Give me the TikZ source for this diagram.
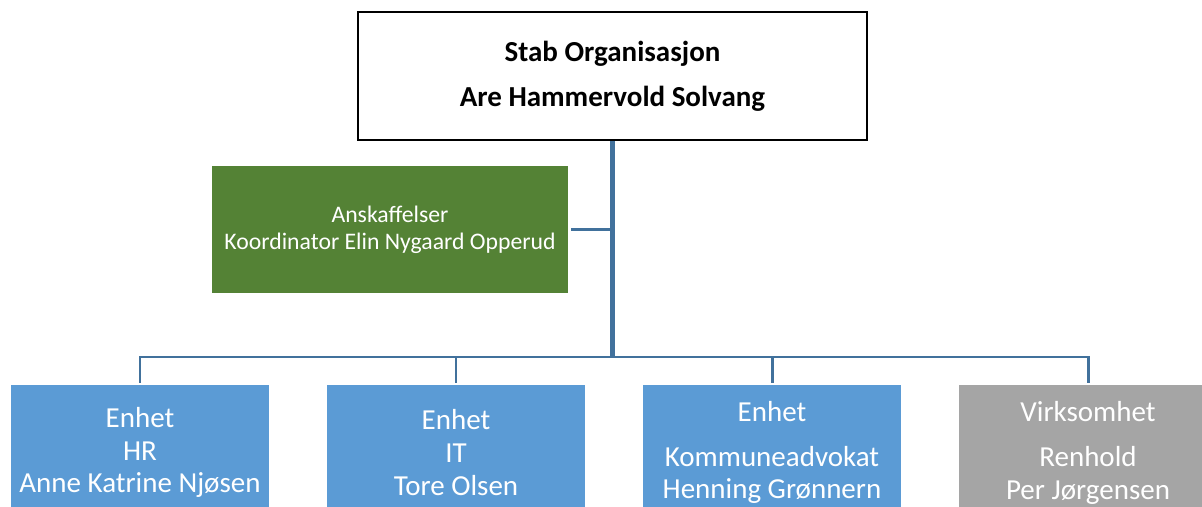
\documentclass[tikz,border=0pt]{standalone}
\usepackage{fontspec}
\setmainfont{Carlito}
\usetikzlibrary{positioning,calc}
\definecolor{lineblue}{HTML}{41719C}
\definecolor{unitblue}{HTML}{5B9BD5}
\definecolor{staffgreen}{HTML}{548235}
\definecolor{unitgray}{HTML}{A5A5A5}
\tikzstyle{unit} = [rectangle, minimum width=5.16cm, minimum height=2.7cm, inner sep=0pt, align=center, text=white, font=\fontsize{16.5}{18.7}\selectfont]
\tikzstyle{conn} = [draw=lineblue, line width=1.7pt]

\begin{document}
\begin{tikzpicture}
\useasboundingbox (0,0) rectangle (24.04,10.12);
\clip (0,0) rectangle (24.04,10.12);
% head of the staff
\node (stab) at (12.25,8.6) [draw, line width=1.1pt, minimum width=10.18cm, minimum height=2.56cm, align=center, font=\bfseries\fontsize{16.5}{25.5}\selectfont] {Stab Organisasjon\\Are Hammervold Solvang};
\node (ansk) at (7.8,5.53) [fill=staffgreen, text=white, minimum width=7.12cm, minimum height=2.54cm, align=center, font=\fontsize{13.5}{15.3}\selectfont] {Anskaffelser\\Koordinator Elin Nygaard Opperud};
% units
\node (hr) at (2.8,1.07) [unit, fill=unitblue] {Enhet\\HR\\Anne Katrine Njøsen};
\node (it) at (9.12,1.07) [unit, fill=unitblue] {Enhet\\IT\\Tore Olsen};
\node (adv) at (15.44,1.07) [unit, fill=unitblue] {Enhet\\[6.8pt]Kommuneadvokat\\Henning Grønnern};
\node (ren) at (21.76,1.06) [unit, fill=unitgray, minimum height=2.72cm] {Virksomhet\\[6.8pt]Renhold\\Per Jørgensen};
\coordinate (bus) at (12.28,2.98);
% lines
\draw [conn, line width=2.8pt] (stab.south) -- (stab.south |- bus);
\draw [conn, line width=1.4pt, shorten <=0.06cm] (ansk.east) -- (ansk.east -| stab.south);
\draw [conn, shorten <=0.04cm, shorten >=0.04cm] (hr.north) -- (hr.north |- bus) -- (ren.north |- bus) -- (ren.north);
\draw [conn, shorten <=0.04cm] (it.north) -- (it.north |- bus);
\draw [conn, shorten <=0.04cm] (adv.north) -- (adv.north |- bus);
\end{tikzpicture}
\end{document}
